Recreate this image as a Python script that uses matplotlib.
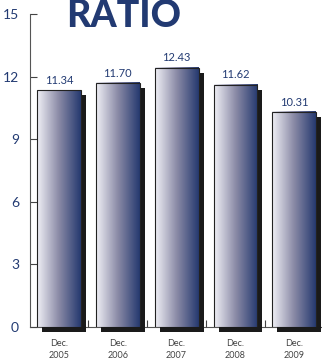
import numpy as np
import matplotlib.pyplot as plt
from matplotlib.colors import LinearSegmentedColormap
from matplotlib.patches import Rectangle

years = ['Dec.\n2005', 'Dec.\n2006', 'Dec.\n2007', 'Dec.\n2008', 'Dec.\n2009']
values = [11.34, 11.70, 12.43, 11.62, 10.31]
yticks = [0, 3, 6, 9, 12, 15]

navy = '#223a72'
cmap = LinearSegmentedColormap.from_list('bar', ['#f0f0f6', '#8a8aa6', '#25396f'])
grad = np.linspace(0, 1, 256).reshape(1, -1)

fig = plt.figure(figsize=(3.22, 3.59), dpi=100)
ax = fig.add_axes([30 / 322, 32 / 359, 292 / 322, 313 / 359])

w = 0.745
sx, sy = 0.085, 0.24
for i, v in enumerate(values):
    x0 = i - w / 2
    # shadow
    ax.add_patch(Rectangle((x0 + sx, -sy), w, v, facecolor='#1a1a1a',
                           edgecolor='none', clip_on=False, zorder=1))
    ax.imshow(grad, cmap=cmap, extent=[x0, x0 + w, 0, v], aspect='auto', zorder=2)
    ax.add_patch(Rectangle((x0, 0), w, v, facecolor='none',
                           edgecolor='#222222', linewidth=0.8, zorder=3))
    ax.text(i, v + 0.2, f'{v:.2f}', ha='center', va='bottom',
            fontsize=8, color=navy, fontfamily='Lato')

ax.set_xlim(-0.49, 4.47)
ax.set_ylim(0, 15)
ax.set_yticks(yticks)
ax.set_yticklabels([str(t) for t in yticks], fontsize=10, color=navy, fontfamily='Lato')
ax.tick_params(axis='y', direction='in', length=5, width=0.8, color='#444444', pad=8)
ax.set_xticks(np.arange(len(values) - 1) + 0.5, minor=True)
ax.set_xticks(range(len(values)))
ax.set_xticklabels(years, fontsize=6.5, color='#444444', fontfamily='Lato', linespacing=1.3)
ax.tick_params(axis='x', which='major', length=0, pad=9)
ax.tick_params(axis='x', which='minor', direction='in', length=5, width=0.8, color='#444444')
for s in ['top', 'right']:
    ax.spines[s].set_visible(False)
for s in ['left', 'bottom']:
    ax.spines[s].set_color('#555555')
    ax.spines[s].set_linewidth(0.8)
ax.spines['bottom'].set_zorder(0)

fig.text(124 / 322, 1 - 16 / 359, 'RATIO', ha='center', va='center',
         fontsize=27, fontweight='black', color=navy, fontfamily='Lato')

fig.savefig('out.png', dpi=100)
